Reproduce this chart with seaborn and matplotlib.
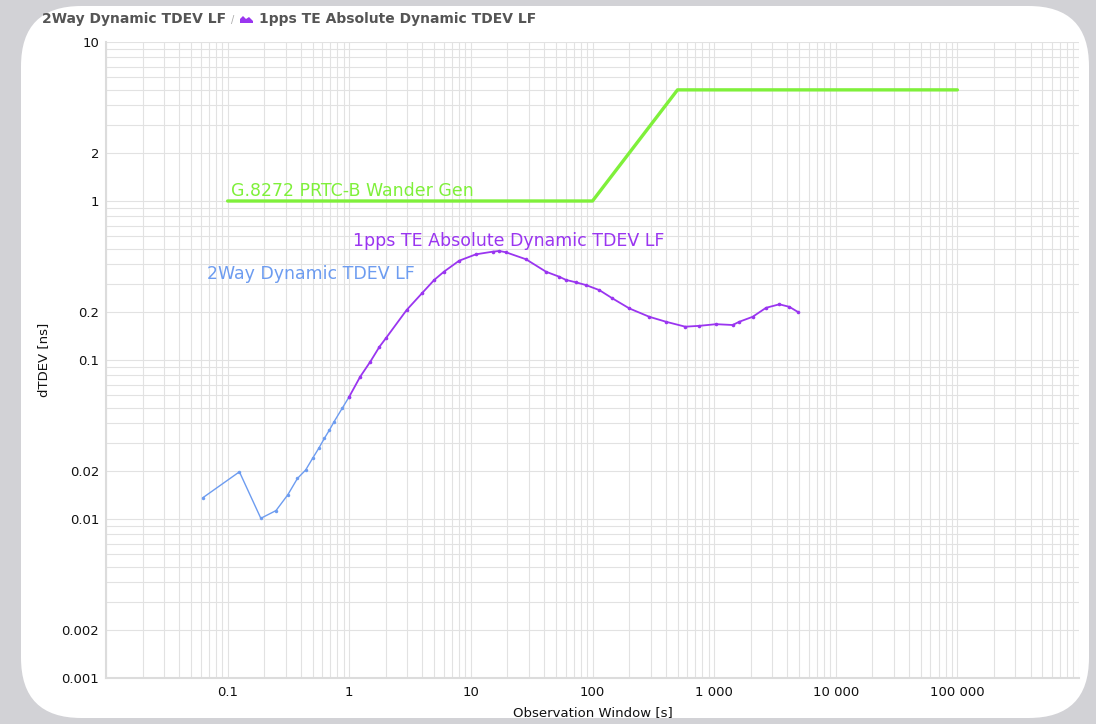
import matplotlib
matplotlib.use("Agg")
import matplotlib.pyplot as plt
import matplotlib.patches as mpatches
from matplotlib.ticker import FixedLocator, NullFormatter, LogLocator
import numpy as np
import pandas as pd
import seaborn as sns

# --- series data -----------------------------------------------------------
mask_tau = [0.1, 100, 500, 100000]
mask_tdev = [1.0, 1.0, 5.0, 5.0]

twoway_tau = [0.0625, 0.125, 0.1875, 0.25, 0.3125, 0.375, 0.4375, 0.5,
              0.5625, 0.625, 0.6875, 0.75, 0.875, 1.0]
twoway_tdev = [0.0136, 0.0198, 0.0101, 0.0113, 0.0142, 0.0180, 0.0203, 0.0241,
               0.0279, 0.0322, 0.0363, 0.0409, 0.0497, 0.0588]

pps_tau = [1.0, 1.23, 1.49, 1.77, 2.0, 2.96, 4.0, 5.0, 6.0, 8.0, 11.0, 15.1,
           17.1, 19.4, 28.4, 41.5, 53.3, 60.5, 73.1, 88.4, 114,
           146, 201, 293, 402, 579, 755, 1037, 1420, 1611,
           2075, 2673, 3437, 4153, 4860]
pps_tdev = [0.0588, 0.0785, 0.0976, 0.121, 0.137, 0.206, 0.265, 0.319, 0.359,
            0.421, 0.462, 0.480, 0.485, 0.476, 0.430, 0.359,
            0.334, 0.319, 0.308, 0.296, 0.275, 0.244, 0.211,
            0.187, 0.174, 0.162, 0.164, 0.168, 0.166, 0.174, 0.187,
            0.213, 0.224, 0.216, 0.201]

y_ticks = [0.001, 0.002, 0.01, 0.02, 0.1, 0.2, 1, 2, 10]
y_ticklabels = ["0.001", "0.002", "0.01", "0.02", "0.1", "0.2", "1", "2", "10"]
x_ticks = [0.1, 1, 10, 100, 1000, 10000, 100000]
x_ticklabels = ["0.1", "1", "10", "100", "1 000", "10 000", "100 000"]

title_left = "2Way Dynamic TDEV LF"
title_right = "1pps TE Absolute Dynamic TDEV LF"
mask_label = "G.8272 PRTC-B Wander Gen"

GREEN = "#7ff03a"
PURPLE = "#9a35f0"
BLUE = "#6d9cf0"

sns.set_theme(style="white")
plt.rcParams["font.family"] = ["DejaVu Sans"]

W, H = 1096, 724
fig = plt.figure(figsize=(W / 100, H / 100), dpi=100)
fig.patch.set_facecolor("#d2d2d6")

# rounded white panel behind the chart
panel = mpatches.FancyBboxPatch((21 / W, 6 / H), 1068 / W, 712 / H,
                                boxstyle="round,pad=0,rounding_size=0.055",
                                transform=fig.transFigure,
                                facecolor="white", edgecolor="none",
                                mutation_aspect=W / H, zorder=0)
fig.add_artist(panel)

ax = fig.add_axes([106 / W, 1 - 678 / H, (1079 - 106) / W, (678 - 42) / H])
ax.set_facecolor("white")
ax.set_zorder(1)

df_mask = pd.DataFrame({"tau": mask_tau, "tdev": mask_tdev})
df_two = pd.DataFrame({"tau": twoway_tau, "tdev": twoway_tdev})
df_pps = pd.DataFrame({"tau": pps_tau, "tdev": pps_tdev})

sns.lineplot(data=df_two, x="tau", y="tdev", ax=ax, color=BLUE, lw=1.0,
             marker="o", markersize=2.5, markeredgewidth=0, sort=False, zorder=3)
sns.lineplot(data=df_pps, x="tau", y="tdev", ax=ax, color=PURPLE, lw=1.3,
             marker="o", markersize=2.6, markeredgewidth=0, sort=False, zorder=4)
sns.lineplot(data=df_mask, x="tau", y="tdev", ax=ax, color=GREEN, lw=2.4,
             sort=False, zorder=5)

ax.set_xscale("log")
ax.set_yscale("log")
ax.set_xlim(0.01, 1e6)
ax.set_ylim(0.001, 10)

ax.xaxis.set_major_locator(FixedLocator(x_ticks))
ax.set_xticklabels(x_ticklabels)
ax.yaxis.set_major_locator(FixedLocator(y_ticks))
ax.set_yticklabels(y_ticklabels)
ax.xaxis.set_minor_locator(LogLocator(base=10, subs=np.arange(1, 10), numticks=20))
ax.yaxis.set_minor_locator(LogLocator(base=10, subs=np.arange(1, 10), numticks=20))
ax.xaxis.set_minor_formatter(NullFormatter())
ax.yaxis.set_minor_formatter(NullFormatter())

ax.grid(True, which="both", color="#e2e2e2", lw=0.8)
ax.tick_params(which="both", length=0, labelsize=9.5, colors="#111111")
ax.tick_params(axis="x", pad=6)
ax.tick_params(axis="y", pad=5)
for side in ["top", "right"]:
    ax.spines[side].set_visible(False)
for side in ["left", "bottom"]:
    ax.spines[side].set_color("#dcdcdc")
    ax.spines[side].set_linewidth(1.5)

ax.set_xlabel("Observation Window [s]", fontsize=9.5, color="#111111", labelpad=5)
ax.set_ylabel("dTDEV [ns]", fontsize=9.5, color="#111111", labelpad=8)

# series labels
ax.text(0.107, 1.16, mask_label, color=GREEN, fontsize=12.5, va="center", ha="left")
ax.text(1.07, 0.56, title_right, color=PURPLE, fontsize=12.5, va="center", ha="left")
ax.text(0.068, 0.345, title_left, color=BLUE, fontsize=12.5, va="center", ha="left")

# chart header
fig.text(42 / W, 1 - 19 / H, title_left, fontsize=10, fontweight="bold",
         color="#555555", va="center", ha="left")
fig.text(231 / W, 1 - 20 / H, "/", fontsize=7, color="#aaaaaa",
         va="center", ha="left")
icon = mpatches.Polygon(
    [[240 / W, 1 - 23 / H], [240 / W, 1 - 19 / H], [243 / W, 1 - 16 / H],
     [246 / W, 1 - 19 / H], [249 / W, 1 - 17 / H], [253 / W, 1 - 21 / H],
     [253 / W, 1 - 23 / H]],
    closed=True, transform=fig.transFigure, facecolor=PURPLE,
    edgecolor="none")
fig.add_artist(icon)
fig.text(259 / W, 1 - 19 / H, title_right, fontsize=10, fontweight="bold",
         color="#555555", va="center", ha="left")

fig.savefig("out.png", dpi=100, facecolor=fig.get_facecolor())
